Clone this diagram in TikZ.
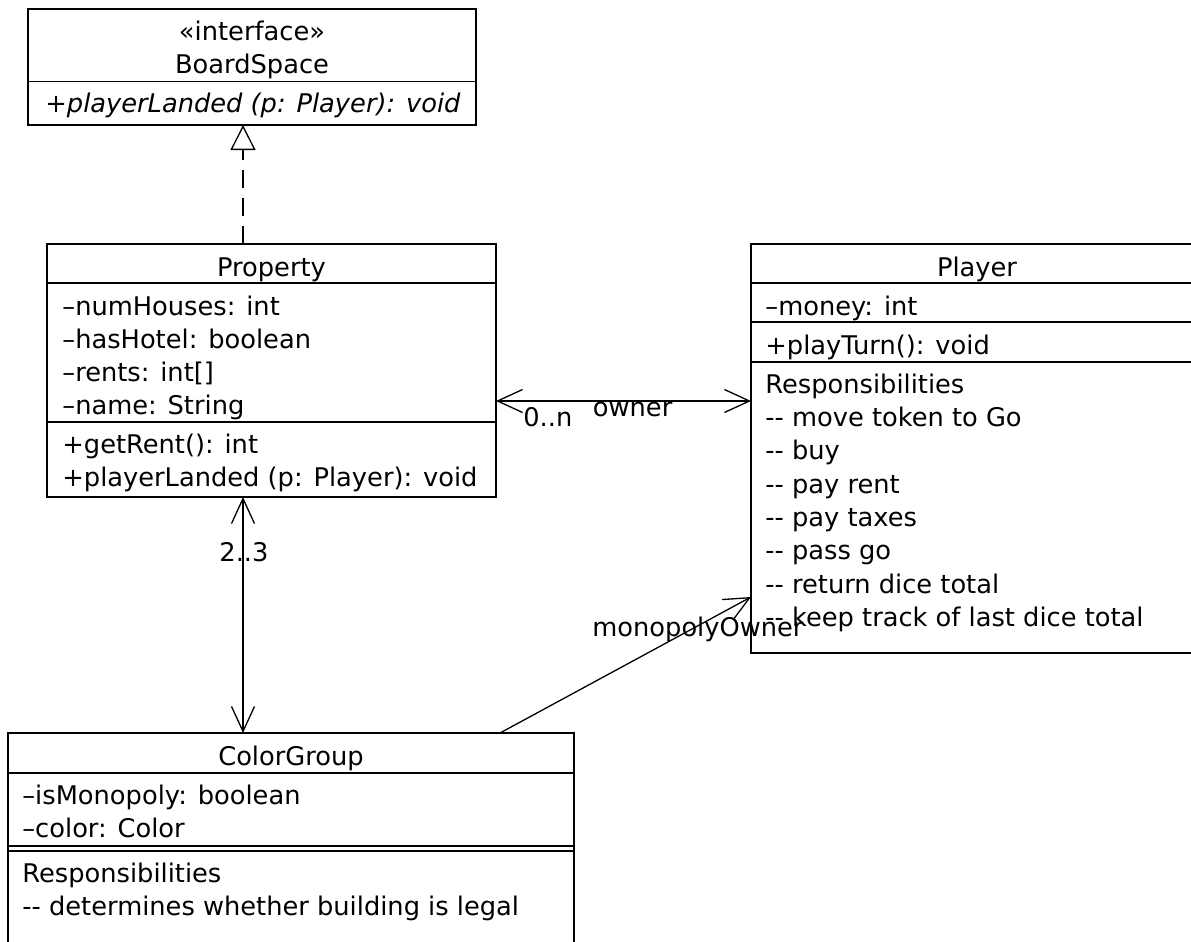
\documentclass[tikz,border=0pt]{standalone}
\usepackage{fontspec}
\setmainfont{DejaVu Sans}
\usetikzlibrary{arrows.meta,calc}
\begin{document}
\begin{tikzpicture}[x=0.5pt,y=-0.5pt,
  box/.style={draw, line width=0.85pt, inner sep=0pt, outer sep=0pt, anchor=north west},
  sep/.style={line width=0.85pt},
  txt/.style={inner sep=0pt, anchor=base west, font=\fontsize{12.85}{15}\selectfont},
  ttl/.style={inner sep=0pt, anchor=base, font=\fontsize{12.85}{15}\selectfont},
  conn/.style={line width=0.65pt},
  barb/.tip={Straight Barb[length=12.5pt,width=11.5pt]},
  gentip/.tip={Triangle[open,length=12.5pt,width=12.5pt,fill=white]}
]
\useasboundingbox (0,0) rectangle (1191,942);
\clip (0,0) rectangle (1191,942);

% BoardSpace
\node[box, minimum width=224pt, minimum height=58pt] (bs) at (28,9) {};
\draw[sep] ($(bs.north west)+(0,72.5)$) -- ($(bs.north east)+(0,72.5)$);
\node[ttl] (bsst) at (252,40.7) {«interface»};
\node[ttl] (bsname) at (252,74) {BoardSpace};
\node[txt, font=\fontsize{12.85}{15}\selectfont\itshape] (bsop) at (45,112.7) {+playerLanded (p: Player): void};

% Property
\node[box, minimum width=224.5pt, minimum height=126.5pt] (prop) at (47,244) {};
\draw[sep] ($(prop.north west)+(0,39)$) -- ($(prop.north east)+(0,39)$);
\draw[sep] ($(prop.north west)+(0,178)$) -- ($(prop.north east)+(0,178)$);
\node[ttl] (propname) at (271.5,276.7) {Property};
\node[txt] (pa1) at (62,315) {–numHouses: int};
\node[txt] (pa2) at (62,348.3) {–hasHotel: boolean};
\node[txt] (pa3) at (62,381.7) {–rents: int[]};
\node[txt] (pa4) at (62,414) {–name: String};
\node[txt] (pm1) at (62,453.3) {+getRent(): int};
\node[txt] (pm2) at (62,486.7) {+playerLanded (p: Player): void};

% Player
\node[box, minimum width=226pt, minimum height=204.5pt] (player) at (751,244) {};
\draw[sep] ($(player.north west)+(0,39)$) -- ($(player.north east)+(0,39)$);
\draw[sep] ($(player.north west)+(0,78.3)$) -- ($(player.north east)+(0,78.3)$);
\draw[sep] ($(player.north west)+(0,118.3)$) -- ($(player.north east)+(0,118.3)$);
\node[ttl] (playername) at (977,276) {Player};
\node[txt] (ya1) at (765,315) {–money: int};
\node[txt] (ym1) at (765,354) {+playTurn(): void};
\node[txt] (yr0) at (765,393.3) {Responsibilities};
\node[txt] (yr1) at (765,426.6) {-{}- move token to Go};
\node[txt] (yr2) at (765,459.9) {-{}- buy};
\node[txt] (yr3) at (765,493.2) {-{}- pay rent};
\node[txt] (yr4) at (765,526.5) {-{}- pay taxes};
\node[txt] (yr5) at (765,559.8) {-{}- pass go};
\node[txt] (yr6) at (765,593.1) {-{}- return dice total};
\node[txt] (yr7) at (765,626.4) {-{}- keep track of last dice total};

% ColorGroup
\node[box, minimum width=283pt, minimum height=130pt] (cg) at (8,733) {};
\draw[sep] ($(cg.north west)+(0,40)$) -- ($(cg.north east)+(0,40)$);
\draw[sep] ($(cg.north west)+(0,113)$) -- ($(cg.north east)+(0,113)$);
\draw[sep] ($(cg.north west)+(0,118)$) -- ($(cg.north east)+(0,118)$);
\node[ttl] (cgname) at (291,765) {ColorGroup};
\node[txt] (ca1) at (22,804) {–isMonopoly: boolean};
\node[txt] (ca2) at (22,837.3) {–color: Color};
\node[txt] (cr0) at (22,882.3) {Responsibilities};
\node[txt] (cr1) at (22,915.7) {-{}- determines whether building is legal};

% Connectors
\draw[conn, dash pattern=on 9pt off 5pt, -{gentip}] ($(prop.north west)+(196,0)$) -- ($(bs.south west)+(215,0)$);
\draw[conn, {barb}-{barb}] ($(prop.north east)+(0,157)$) -- ($(player.north west)+(0,157)$);
\draw[conn, {barb}-{barb}] ($(prop.south west)+(196,0)$) -- ($(cg.north west)+(235,0)$);
\draw[conn, -{barb}] ($(cg.north west)+(492,0)$) -- ($(player.north west)+(0,353)$);

% Labels
\node[txt] (lown) at (592.5,416.7) {owner};
\node[txt] (lmul) at (523,426.7) {0..n};
\node[ttl] (l23) at (244,561.7) {2..3};
\node[txt] (lmono) at (592,636) {monopolyOwner};
\end{tikzpicture}
\end{document}
